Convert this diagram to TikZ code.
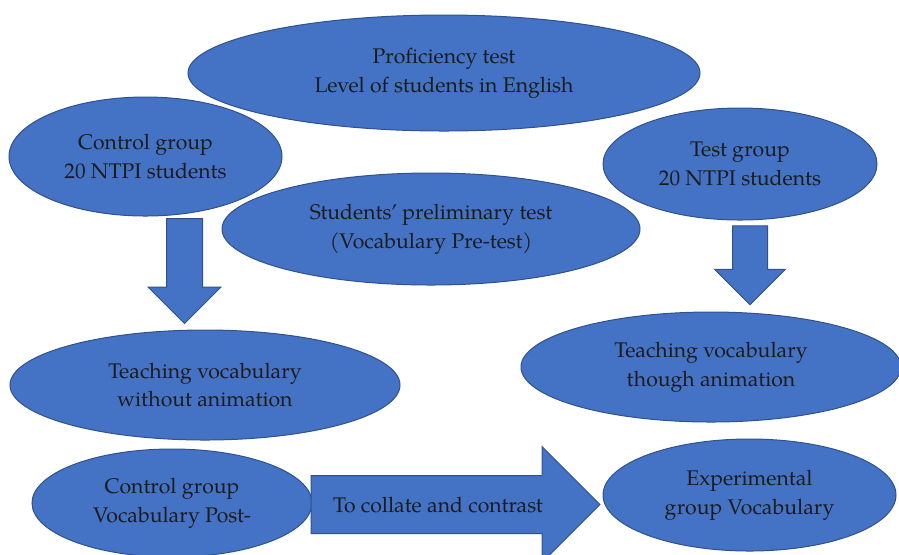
\documentclass[tikz,border=0pt]{standalone}
\usepackage{fontspec}
\setmainfont{TeX Gyre Pagella}
\usepackage{tikz}
\usetikzlibrary{shapes.geometric,shapes.arrows,positioning}
\definecolor{boxblue}{HTML}{4472C4}
\definecolor{edgeblue}{HTML}{2F528F}
\definecolor{txtdark}{HTML}{1C1C1C}

\begin{document}
\begin{tikzpicture}[
  x=0.5pt, y=-0.5pt,
  oval/.style={ellipse, draw=edgeblue, fill=boxblue, line width=0.5pt, inner sep=0pt, align=center, text=txtdark, font=\fontsize{10.6}{14.3}\selectfont},
  blockarrow/.style={single arrow, draw=edgeblue, fill=boxblue, line width=0.5pt, inner xsep=0pt, single arrow tip angle=90},
  lbl/.style={text=txtdark, font=\fontsize{10.6}{14.3}\selectfont},
]
\useasboundingbox (0,0) rectangle (899,554);
\clip (0,0) rectangle (899,554);

% Top row
\node[oval, minimum width=256pt, minimum height=58pt] (prof) at (444,73) {Proficiency test\\Level of students in English};
\node[oval, minimum width=136.5pt, minimum height=59.5pt] (ctrl) at (145.5,156.5) {Control group\\20 NTPI students};
\node[oval, minimum width=137pt, minimum height=56pt] (test) at (740,164) {Test group\\20 NTPI students};
\node[oval, minimum width=209pt, minimum height=56pt] (pre) at (431,229) {Students’ preliminary test\\(Vocabulary Pre-test)};

% Down arrows
\node[blockarrow, rotate=-90, minimum height=52.5pt, inner ysep=8.75pt, single arrow head extend=9.25pt] (arrL) at (184.5,262) {};
\node[blockarrow, rotate=-90, minimum height=39.5pt, inner ysep=8.5pt, single arrow head extend=9pt] (arrR) at (750,256.5) {};

% Teaching
\node[oval, minimum width=195pt, minimum height=55pt] (noanim) at (205,385) {Teaching vocabulary\\without animation};
\node[oval, minimum width=190pt, minimum height=55pt] (anim) at (711,367) {Teaching vocabulary\\though animation};

% Bottom row
\node[oval, minimum width=140pt, minimum height=54pt] (post) at (172,503) {Control group\\Vocabulary Post-};
\node[blockarrow, minimum height=144.5pt, inner ysep=14.25pt, single arrow head extend=14.5pt] (arrC) at (441,504.5) {};
\node[lbl] (arrCtext) at (438,505) {To collate and contrast};
\node[oval, minimum width=146.5pt, minimum height=56pt] (exper) at (749.5,495) {Experimental\\group Vocabulary};

\end{tikzpicture}
\end{document}
